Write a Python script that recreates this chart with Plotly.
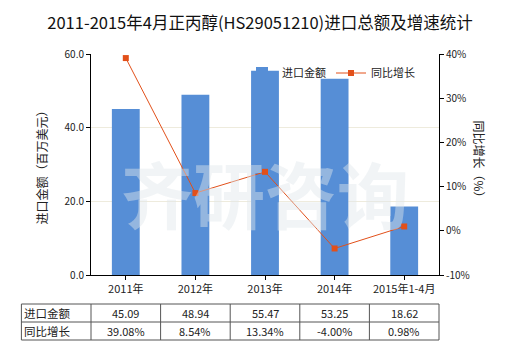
import plotly.graph_objects as go

categories = ["2011年", "2012年", "2013年", "2014年", "2015年1-4月"]
import_value = [45.09, 48.94, 55.47, 53.25, 18.62]
yoy_growth = [39.08, 8.54, 13.34, -4.00, 0.98]

left_ticks = [0, 20, 40, 60]
right_ticks = [-10, 0, 10, 20, 30, 40]

title_text = "2011-2015年4月正丙醇(HS29051210)进口总额及增速统计"
bar_name = "进口金额"
line_name = "同比增长"
left_title = "进口金额（百万美元）"
right_title = "同比增长（%）"

FONT = "Noto Sans CJK SC, Microsoft YaHei, sans-serif"
BAR_COLOR = "#568ED6"
LINE_COLOR = "#E2501A"
TXT = "#222222"

W, H = 520, 350
ML, MR, MT, MB = 91, 81, 54, 75
PW, PH = W - ML - MR, H - MT - MB


def px_x(pixel_x):
    return (pixel_x - ML) / PW


def px_y(pixel_y):
    return (H - MB - pixel_y) / PH


def cat_x(v):
    # category coordinate -> paper fraction (axis range is [-0.5, 4.5])
    return (v + 0.5) / len(categories)


xs = list(range(len(categories)))

fig = go.Figure()
fig.add_trace(go.Bar(
    x=xs, y=import_value, name=bar_name, width=0.4,
    marker=dict(color=BAR_COLOR, line=dict(width=0)),
    yaxis="y",
))
fig.add_trace(go.Scatter(
    x=xs, y=yoy_growth, name=line_name, mode="lines+markers",
    line=dict(color=LINE_COLOR, width=1),
    marker=dict(symbol="square", size=6, color=LINE_COLOR),
    yaxis="y2",
))

# faint watermark
fig.add_annotation(
    text="<b>齐研咨询</b>", x=0.5, y=0.38, xref="paper", yref="paper",
    showarrow=False, font=dict(family=FONT, size=72, color="rgba(225,230,236,0.45)"),
)

fig.update_layout(
    width=W, height=H,
    margin=dict(l=ML, r=MR, t=MT, b=MB),
    paper_bgcolor="white", plot_bgcolor="white",
    font=dict(family=FONT, size=10, color=TXT),
    title=dict(text=title_text, x=0.5, xanchor="center", y=0.935, yanchor="middle",
               font=dict(family=FONT, size=16.5, color="#111111")),
    showlegend=True,
    legend=dict(orientation="h", x=px_x(242), y=px_y(73), xanchor="left", yanchor="middle",
                bgcolor="rgba(0,0,0,0)", font=dict(family=FONT, size=11, color=TXT),
                itemwidth=30, tracegroupgap=0),
    xaxis=dict(
        range=[-0.5, 4.5], tickmode="array", tickvals=xs, ticktext=categories,
        showline=True, linecolor="#000000", linewidth=1,
        ticks="outside", ticklen=4, tickcolor="#000000",
        showgrid=False, zeroline=False,
        tickfont=dict(family=FONT, size=11, color=TXT),
    ),
    yaxis=dict(
        range=[0, 60], tickmode="array", tickvals=left_ticks,
        ticktext=[f"{t:.1f}" for t in left_ticks],
        showline=True, linecolor="#000000", linewidth=1,
        ticks="outside", ticklen=4, tickcolor="#000000",
        showgrid=True, gridcolor="#EEEBDD", gridwidth=1, zeroline=False,
        tickfont=dict(family=FONT, size=10, color=TXT),
    ),
    yaxis2=dict(
        range=[-10, 40], tickmode="array", tickvals=right_ticks,
        ticktext=[f"{t}%" for t in right_ticks],
        overlaying="y", side="right",
        showline=True, linecolor="#000000", linewidth=1,
        ticks="outside", ticklen=4, tickcolor="#000000",
        showgrid=False, zeroline=False,
        tickfont=dict(family=FONT, size=10, color=TXT),
    ),
)

# axis titles
fig.add_annotation(text=left_title, x=px_x(30), y=px_y(165), xref="paper", yref="paper",
                   showarrow=False, textangle=-90,
                   font=dict(family=FONT, size=12, color=TXT))
fig.add_annotation(text=right_title, x=px_x(490), y=px_y(162), xref="paper", yref="paper",
                   showarrow=False, textangle=90,
                   font=dict(family=FONT, size=12, color=TXT))

# data table under the axis
row_labels = [bar_name, line_name]
row_values = [[f"{v:.2f}" for v in import_value], [f"{v:.2f}%" for v in yoy_growth]]

row_edges = [304, 322, 340]
col_edges = [-1.5] + [i - 0.5 for i in range(len(categories) + 1)]
line_style = dict(color="#555555", width=1)
for ye in row_edges:
    fig.add_shape(type="line", xref="paper", yref="paper",
                  x0=cat_x(col_edges[0]), x1=cat_x(col_edges[-1]),
                  y0=px_y(ye), y1=px_y(ye), line=line_style)
for xe in col_edges:
    fig.add_shape(type="line", xref="paper", yref="paper", x0=cat_x(xe), x1=cat_x(xe),
                  y0=px_y(row_edges[0]), y1=px_y(row_edges[-1]), line=line_style)

for r, (label, vals) in enumerate(zip(row_labels, row_values)):
    yc = px_y((row_edges[r] + row_edges[r + 1]) / 2)
    fig.add_annotation(text=label, x=cat_x(-1.5), y=yc, xref="paper", yref="paper",
                       xanchor="left", yanchor="middle", xshift=1, showarrow=False,
                       font=dict(family=FONT, size=11.5, color=TXT))
    for i, v in enumerate(vals):
        fig.add_annotation(text=v, x=cat_x(xs[i]), y=yc, xref="paper", yref="paper",
                           xanchor="center", yanchor="middle", showarrow=False,
                           font=dict(family=FONT, size=11, color=TXT))

fig.write_html("out.html")
